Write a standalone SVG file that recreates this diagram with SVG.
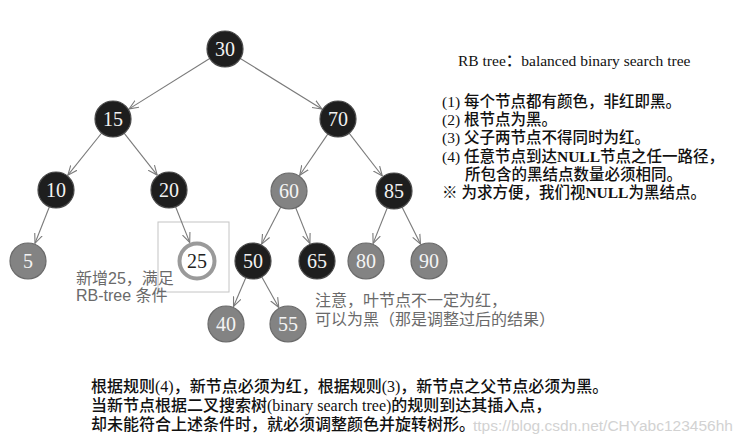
<svg xmlns="http://www.w3.org/2000/svg" width="745" height="445" viewBox="0 0 745 445">
<style>
.blk circle{fill:#1e1e1e;stroke:#4a4a4a;stroke-width:1.2}
.red circle{fill:#838383;stroke:#6a6a6a;stroke-width:1.2}
.new circle{fill:#ffffff;stroke:#9a9a9a;stroke-width:4}
.num{font-family:"Liberation Serif",serif;font-size:20px;text-anchor:middle}
.blk .num{fill:#f2f2f2}
.red .num{fill:#f4f4f4}
.new .num{fill:#222222}
.edge{stroke:#7a7a7a;stroke-width:1.1;fill:none;marker-end:url(#arr)}
.note{font-family:"Liberation Sans","Noto Sans CJK SC",sans-serif;font-size:16px;fill:#6a6a6a}
.rule{font-family:"Liberation Serif","Noto Sans CJK SC",serif;font-size:15.5px;font-weight:500;fill:#111111}
.bottom{font-family:"Liberation Serif","Noto Sans CJK SC",serif;font-size:16px;font-weight:500;fill:#111111}
.wm{font-family:"Liberation Sans",sans-serif;font-size:15.5px;fill:#d2d2d2}
</style>
<defs>
<marker id="arr" viewBox="0 -5 10 10" refX="9.5" refY="0" markerWidth="10" markerHeight="10" markerUnits="userSpaceOnUse" orient="auto">
<path d="M0,-4 L9.5,0 L0,4" fill="none" stroke="#7a7a7a" stroke-width="1.1"/>
</marker>
</defs>
<rect width="745" height="445" fill="#ffffff"/>
<rect x="158" y="222" width="71" height="70" fill="none" stroke="#c4c4c4" stroke-width="1"/>
<g id="connectors">
<line class="edge" x1="209.7" y1="58.5" x2="129.1" y2="108.9"/>
<line class="edge" x1="240.3" y1="58.5" x2="321.9" y2="109.0"/>
<line class="edge" x1="101.7" y1="133.0" x2="67.9" y2="175.2"/>
<line class="edge" x1="124.1" y1="133.1" x2="157.2" y2="175.1"/>
<line class="edge" x1="327.9" y1="133.9" x2="299.7" y2="175.3"/>
<line class="edge" x1="349.1" y1="133.2" x2="382.3" y2="176.0"/>
<line class="edge" x1="49.4" y1="206.7" x2="35.0" y2="243.3"/>
<line class="edge" x1="175.6" y1="206.7" x2="189.7" y2="242.4"/>
<line class="edge" x1="280.8" y1="207.0" x2="261.7" y2="244.1"/>
<line class="edge" x1="295.7" y1="207.7" x2="309.9" y2="243.4"/>
<line class="edge" x1="387.3" y1="207.7" x2="373.1" y2="243.4"/>
<line class="edge" x1="402.0" y1="207.1" x2="420.5" y2="244.0"/>
<line class="edge" x1="245.9" y1="277.5" x2="233.5" y2="306.5"/>
<line class="edge" x1="261.7" y1="276.7" x2="278.8" y2="307.4"/>
</g>
<g id="n30" class="blk"><circle cx="225" cy="49" r="18"/><text class="num" x="225" y="56">30</text></g>
<g id="n15" class="blk"><circle cx="113" cy="119" r="18"/><text class="num" x="113" y="126">15</text></g>
<g id="n70" class="blk"><circle cx="338" cy="119" r="18"/><text class="num" x="338" y="126">70</text></g>
<g id="n10" class="blk"><circle cx="56" cy="190" r="18"/><text class="num" x="56" y="197">10</text></g>
<g id="n20" class="blk"><circle cx="169" cy="190" r="18"/><text class="num" x="169" y="197">20</text></g>
<g id="n60" class="red"><circle cx="289" cy="191" r="18"/><text class="num" x="289" y="198">60</text></g>
<g id="n85" class="blk"><circle cx="394" cy="191" r="18"/><text class="num" x="394" y="198">85</text></g>
<g id="n5" class="red"><circle cx="28" cy="261" r="18"/><text class="num" x="28" y="268">5</text></g>
<g id="n25" class="new"><circle cx="197" cy="261" r="17.5"/><text class="num" x="197" y="268">25</text></g>
<g id="n50" class="blk"><circle cx="253" cy="261" r="18"/><text class="num" x="253" y="268">50</text></g>
<g id="n65" class="blk"><circle cx="317" cy="261" r="18"/><text class="num" x="317" y="268">65</text></g>
<g id="n80" class="red"><circle cx="366" cy="261" r="18"/><text class="num" x="366" y="268">80</text></g>
<g id="n90" class="red"><circle cx="429" cy="261" r="18"/><text class="num" x="429" y="268">90</text></g>
<g id="n40" class="red"><circle cx="226" cy="324" r="18"/><text class="num" x="226" y="331">40</text></g>
<g id="n55" class="red"><circle cx="288" cy="324" r="18"/><text class="num" x="288" y="331">55</text></g>
<g id="label25">
<text class="note" x="76" y="284">新增25，满足</text>
<text class="note" x="76" y="301">RB-tree 条件</text>
</g>
<g id="leafnote">
<text class="note" x="315" y="306">注意，叶节点不一定为红，</text>
<text class="note" x="315" y="325">可以为黑（那是调整过后的结果）</text>
</g>
<g id="rules">
<text class="rule" x="458" y="66" font-size="16.5" font-weight="400">RB tree：balanced binary search tree</text>
<text class="rule" x="442" y="107">(1) 每个节点都有颜色，非红即黑。</text>
<text class="rule" x="442" y="125.2">(2) 根节点为黑。</text>
<text class="rule" x="442" y="143.4">(3) 父子两节点不得同时为红。</text>
<text class="rule" x="442" y="161.6">(4) 任意节点到达<tspan font-weight="bold">NULL</tspan>节点之任一路径，</text>
<text class="rule" x="465" y="179.8">所包含的黑结点数量必须相同。</text>
<text class="rule" x="442" y="198">※ 为求方便，我们视<tspan font-weight="bold">NULL</tspan>为黑结点。</text>
</g>
<g id="bottomtext">
<text class="wm" x="473" y="431">ttps://blog.csdn.net/CHYabc123456hh</text>
<text class="bottom" x="91" y="392">根据规则(4)，新节点必须为红，根据规则(3)，新节点之父节点必须为黑。</text>
<text class="bottom" x="91" y="411">当新节点根据二叉搜索树(binary search tree)的规则到达其插入点，</text>
<text class="bottom" x="91" y="430">却未能符合上述条件时，就必须调整颜色并旋转树形。</text>
</g>
</svg>
